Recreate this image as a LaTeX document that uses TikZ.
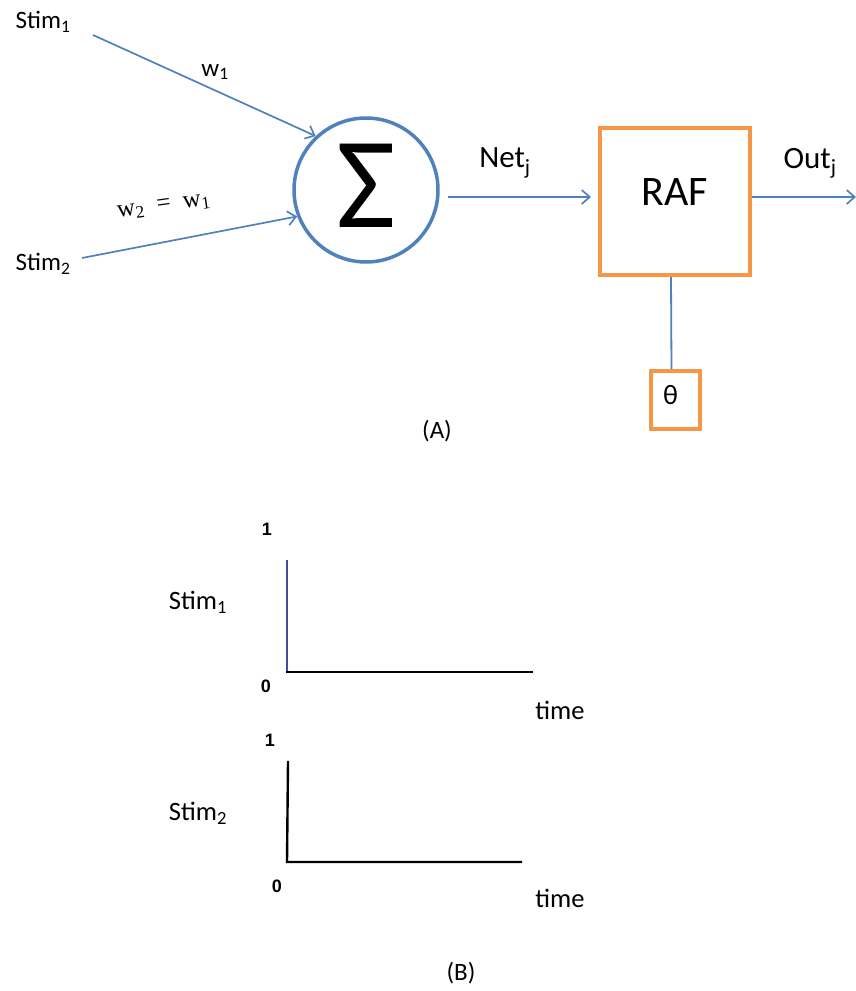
\documentclass[tikz,border=0pt]{standalone}
\usepackage{fontspec}
\setmainfont{Carlito}
\newfontfamily\axisfont{Liberation Sans}
\newfontfamily\weightfont{Liberation Serif}
\usetikzlibrary{arrows.meta,positioning}
\definecolor{linkblue}{HTML}{4F81BD}
\definecolor{boxorange}{HTML}{F79646}
\definecolor{stepblue}{HTML}{3F4FA3}

\begin{document}
\begin{tikzpicture}[x=1pt, y=-1pt,
  lbl/.style={inner sep=0pt, font=\fontsize{25}{29}\selectfont},
  plotlbl/.style={inner sep=0pt, font=\fontsize{26.5}{30}\selectfont},
  biglbl/.style={inner sep=0pt, font=\fontsize{31}{36}\selectfont},
  axnum/.style={inner sep=0pt, font=\axisfont\bfseries\fontsize{18}{21}\selectfont},
  sumnode/.style={circle, draw=linkblue, line width=3.5pt, minimum size=144pt, inner sep=0pt},
  blockbox/.style={draw=boxorange, line width=4pt, inner sep=0pt},
  wire/.style={draw=linkblue, line width=1.7pt, -{Straight Barb[length=8pt, width=14pt, line width=1.7pt]}},
  plain/.style={draw=linkblue, line width=1.8pt},
  axis/.style={line width=2.4pt, line cap=rect}]
  \useasboundingbox (0,0) rectangle (856,991);
  \node[lbl] (stima) at (43,22) {Stim\textsubscript{1}};
  \node[lbl] (stimb) at (43,264) {Stim\textsubscript{2}};
  \coordinate (stimaend) at (93,35);
  \coordinate (stimbend) at (82,258);
  \node[sumnode] (sum) at (366,190) {};
  \node[inner sep=0pt, font=\fontsize{130}{140}\selectfont] (sigma) at (366,186) {Σ};
  \node[lbl] (wa) at (215,72) {w\textsubscript{1}};
  \node[inner sep=0pt, rotate=8, font=\weightfont\fontsize{25}{29}\selectfont] (wb) at (164,207) {w\textsubscript{2}\ \ =\ \ w\textsubscript{1}};
  \node[blockbox, minimum width=150pt, minimum height=147pt,
        font=\fontsize{42}{48}\selectfont] (raf) at (675,201.5) {\raisebox{18pt}{RAF}};
  \node[blockbox, minimum width=49pt, minimum height=58pt,
        font=\fontsize{28}{32}\selectfont] (theta) at (675.5,400) {\raisebox{10pt}{\hspace*{-10pt}θ}};
  \node[biglbl] (net) at (505,163) {Net\textsubscript{j}};
  \node[biglbl] (out) at (810,163) {Out\textsubscript{j}};
  \coordinate (outend) at (856,197);
  \node[lbl] (capa) at (437,431) {(A)};
  \draw[wire] (stimaend) -- (sum.133);
  \draw[wire] (stimbend) -- (sum.201);
  \draw[wire] ([xshift=8pt, yshift=-7pt]sum.east) -- ([xshift=-7pt, yshift=4.5pt]raf.west);
  \draw[wire] ([yshift=4.5pt]raf.east) -- (outend);
  \draw[plain] ([xshift=-4pt]raf.south) -- ([xshift=-4pt]theta.north);
  % step input plots
  \coordinate (oa) at (287,672);
  \coordinate (ta) at (287,561);
  \coordinate (ea) at (532,672);
  \coordinate (ob) at (287,862);
  \coordinate (tb) at (288,762);
  \coordinate (eb) at (521,862);
  \draw[axis, stepblue] (oa) -- (ta);
  \draw[axis] (oa) -- (ea);
  \draw[axis] (tb) -- (ob) -- (eb);
  \node[axnum] (onea) at (267,529) {1};
  \node[axnum] (zeroa) at (266,686) {0};
  \node[plotlbl] (plota) at (198,602) {Stim\textsubscript{1}};
  \node[plotlbl] (timea) at (560,710) {time};
  \node[axnum] (oneb) at (270,740) {1};
  \node[axnum] (zerob) at (277,886) {0};
  \node[plotlbl] (plotb) at (198,813) {Stim\textsubscript{2}};
  \node[plotlbl] (timeb) at (560,898) {time};
  \node[lbl] (capb) at (461,973) {(B)};
\end{tikzpicture}
\end{document}
